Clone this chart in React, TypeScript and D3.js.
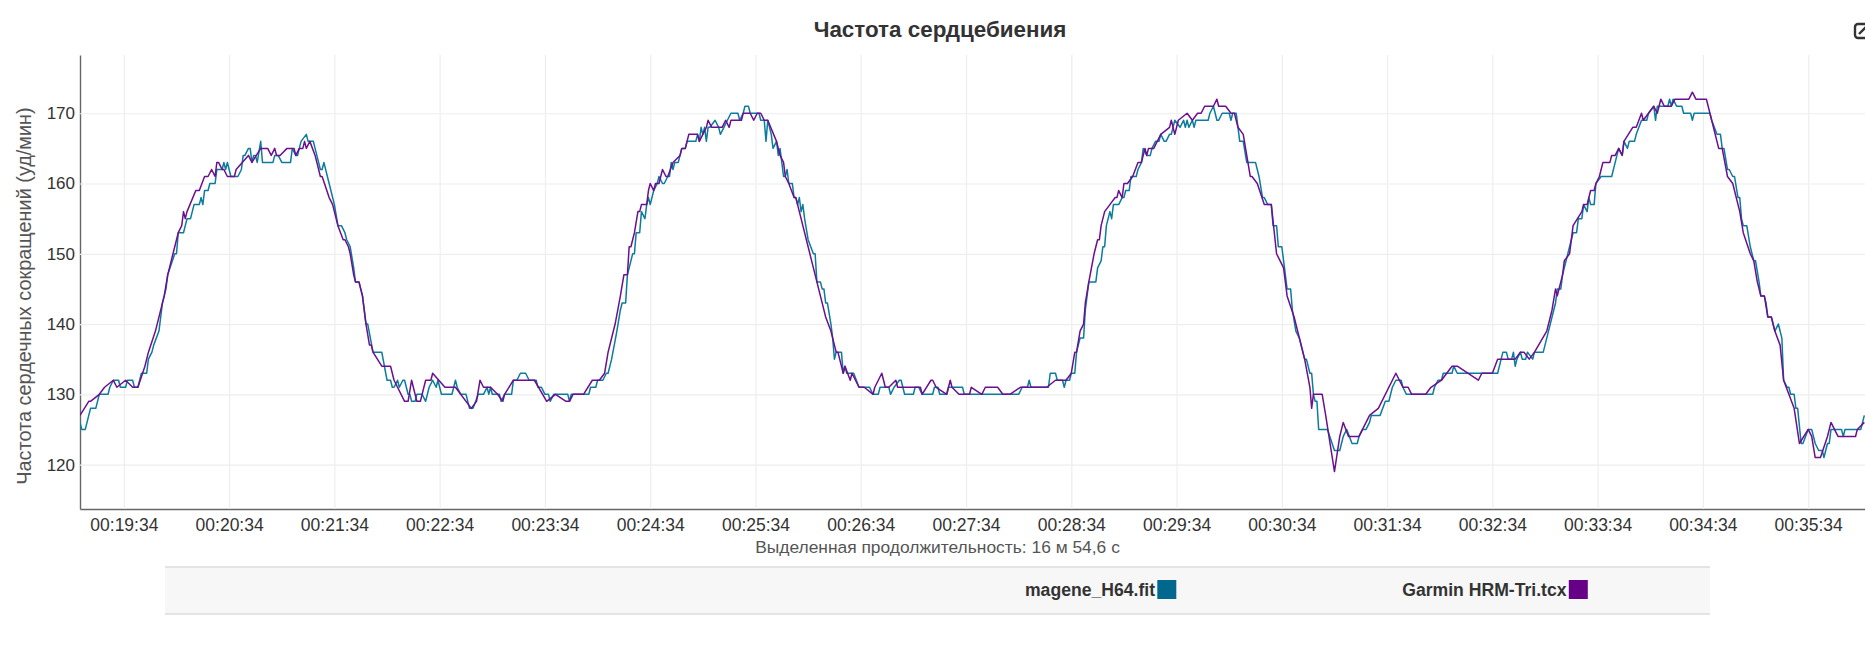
import { useRef, useEffect } from 'react';
import * as d3 from 'd3';

// seconds since the start of the selection (00:19:09) and heart rate
const mageneTimes = [
  0, 1, 3, 5, 6, 9, 10, 11, 16, 17, 19, 22, 23, 26, 27, 30, 31, 33, 35, 38, 39, 41, 42, 45, 46, 47, 49, 50, 54, 55, 56, 59, 61, 63, 65, 68, 69, 70, 71, 73, 74, 77, 78, 81, 82, 83, 84, 85, 86, 90, 92, 93, 94, 96, 97, 98, 99, 100, 101, 103, 104, 110, 111, 113, 115, 118,
  120, 121, 123, 124, 126, 129, 130, 133, 135, 137, 138, 139, 142, 143, 145, 147, 149, 151, 152, 154, 156, 157, 159, 161, 163, 164, 167, 172, 175, 177, 178, 179, 181, 182, 184, 185, 187, 188, 189, 191, 192, 195, 197, 199, 201, 203, 204, 206, 212, 213, 214, 215, 217, 220, 222, 224, 227, 230, 232, 233, 234, 235,
  239, 240, 242, 246, 247, 249, 251, 254, 256, 260, 261, 263, 265, 267, 268, 270, 278, 279, 280, 290, 291, 294, 295, 298, 300, 301, 303, 306, 308, 309, 311, 312, 313, 315, 316, 317, 319, 320, 322, 323, 324, 325, 327, 329, 330, 332, 333, 335, 336, 337, 338, 339, 341, 343, 345, 346, 351, 352, 353, 354, 355, 356, 357,
  358, 359, 362, 364, 365, 367, 369, 371, 375, 376, 378, 379, 381, 382, 387, 388, 390, 391, 392, 394, 395, 397, 398, 399, 401, 402, 403, 404, 406, 407, 408, 409, 410, 411, 412, 413, 415, 418, 419, 420, 422, 423, 424, 425, 426, 428, 429, 430, 431, 434, 435, 436, 437, 441, 444, 450, 452, 455, 456, 461, 462, 464, 467, 468, 470, 475, 476,
  478, 480, 486, 487, 489, 490, 494, 495, 503, 504, 535, 537, 540, 541, 542, 552, 553, 556, 557, 560, 561, 562, 564, 565, 567, 568, 570, 572, 573, 575, 579, 580, 582, 583, 584, 585, 587, 588, 589, 592, 594, 595, 596, 598,
  599, 602, 603, 605, 606, 608, 610, 611, 613, 615, 616, 618, 619, 621, 622, 623, 624, 627, 629, 630, 631, 632, 634, 635, 636, 643, 644, 646, 648, 649, 651, 655, 656, 657, 659, 661, 663, 665, 670, 671, 672, 674, 675, 677, 679, 680, 682, 683, 685, 687, 688, 690, 691, 693, 695, 698, 699, 701, 702, 703, 704, 705,
  706, 711, 715, 718, 720, 722, 725, 728, 729, 731, 733, 735, 736, 740, 741, 744, 746, 748, 750, 753, 754, 756, 771, 772, 774, 776, 777, 782, 783, 785, 803,
  808, 810, 811, 813, 814, 816, 817, 818, 819, 821, 822, 824, 825, 828, 829, 834, 835, 837, 839, 841, 842, 844, 845, 847, 849, 851, 853, 854, 856, 857, 859, 860, 861, 863, 864, 867, 873, 875, 877, 879, 880, 882, 883, 886, 887, 890, 893, 894, 897, 898, 899, 905, 906, 907, 908, 910, 913, 914, 916,
  918, 919, 920, 929, 930, 933, 935, 936, 937, 939, 940, 942, 943, 945, 946, 947, 948, 950, 952, 954, 955, 957, 958, 960, 961, 962, 964, 966, 968, 970, 971, 973, 974, 975, 977, 978, 979, 981, 982, 985, 987, 989, 991, 993, 994, 995, 996, 997, 998, 1004, 1005, 1006, 1015, 1017,
];
const mageneHr = [
  126, 125, 125, 127, 128, 128, 129, 130, 130, 131, 132, 132, 131, 131, 132, 132, 131, 131, 133, 133, 135, 136, 137, 139, 141, 143, 145, 147, 150, 150, 153, 153, 155, 155, 157, 157, 158, 157, 159, 159, 160, 160, 162, 162, 163, 162, 163, 162, 161, 161, 162, 164, 164, 165, 165, 163, 164, 164, 163, 166, 163, 163, 164, 164, 163, 163,
  163, 165, 164, 164, 166, 167, 166, 166, 164, 162, 162, 163, 160, 159, 157, 154, 154, 153, 152, 151, 148, 146, 146, 144, 140, 140, 136, 136, 132, 132, 131, 131, 132, 131, 132, 132, 130, 130, 129, 129, 130, 130, 129, 131, 132, 131, 132, 130, 130, 131, 132, 131, 130, 130, 128, 128, 130, 130, 131, 130, 131, 130,
  130, 129, 130, 130, 132, 132, 133, 133, 132, 132, 131, 131, 130, 130, 129, 130, 130, 129, 130, 130, 131, 131, 132, 132, 133, 133, 135, 139, 142, 143, 143, 147, 148, 150, 150, 153, 153, 156, 155, 157, 158, 157, 159, 160, 161, 160, 160, 161, 161, 163, 162, 163, 163, 165, 165, 166, 166, 167, 166, 168, 167, 168, 166,
  168, 168, 169, 168, 167, 168, 169, 170, 170, 169, 170, 171, 171, 170, 170, 169, 169, 166, 169, 167, 165, 166, 164, 165, 161, 161, 162, 160, 160, 158, 158, 157, 158, 156, 157, 155, 152, 150, 150, 146, 146, 145, 145, 143, 143, 140, 138, 135, 136, 136, 133, 134, 133, 133, 131, 131, 130, 130, 131, 131, 130, 131, 132, 132, 130, 130, 131,
  131, 130, 130, 131, 131, 130, 130, 131, 131, 130, 130, 131, 131, 132, 131, 131, 133, 133, 132, 132, 131, 132, 132, 133, 133, 136, 138, 138, 142, 146, 146, 148, 149, 151, 151, 154, 156, 155, 157, 157, 158, 158, 159, 159,
  161, 161, 162, 163, 165, 164, 164, 165, 166, 166, 167, 166, 166, 167, 167, 168, 169, 168, 169, 168, 169, 168, 169, 168, 169, 169, 170, 171, 169, 169, 170, 170, 169, 170, 170, 166, 166, 163, 163, 162, 161, 158, 158, 157, 157, 154, 154, 151, 151, 147, 145, 145, 142, 139, 138, 135, 135, 133, 133, 130, 129, 129,
  125, 125, 122, 122, 124, 125, 123, 123, 124, 125, 125, 126, 127, 127, 127, 129, 129, 131, 132, 132, 131, 130, 130, 131, 132, 132, 133, 133, 134, 133, 133,
  133, 135, 136, 136, 135, 135, 136, 134, 135, 136, 135, 135, 136, 135, 136, 136, 137, 139, 141, 143, 145, 145, 147, 149, 151, 153, 153, 155, 155, 157, 156, 158, 157, 157, 160, 161, 161, 163, 165, 164, 166, 165, 166, 166, 167, 169, 169, 170, 171, 169, 171, 171, 172, 171, 172, 171, 171, 170, 170,
  170, 169, 170, 170, 169, 167, 167, 165, 165, 162, 162, 161, 161, 158, 158, 155, 154, 154, 151, 149, 149, 146, 144, 144, 143, 141, 141, 139, 140, 138, 132, 131, 131, 130, 130, 128, 128, 123, 123, 125, 125, 123, 122, 122, 121, 122, 123, 123, 125, 125, 124, 125, 125, 127,
];

const garminTimes = [
  0, 5, 6, 11, 14, 19, 21, 26, 30, 33, 37, 39, 43, 48, 50, 53, 56, 58, 59, 60, 61, 66, 68, 71, 73, 75, 77, 78, 79, 81, 82, 84, 88, 89, 96, 98, 103, 107, 109, 111, 112, 114, 118,
  122, 123, 125, 127, 128, 129, 131, 134, 135, 137, 138, 142, 144, 147, 150, 151, 153, 154, 156, 157, 159, 161, 163, 165, 166, 167, 172, 177, 179, 185, 187, 189, 192, 194, 197, 200, 201, 208, 214, 223, 226, 228, 230, 234,
  238, 241, 242, 247, 259, 266, 271, 277, 279, 281, 287, 292, 296, 299, 301, 305, 308, 310, 312, 313, 314, 316, 318, 319, 320, 323, 324, 325, 327, 328, 330, 332, 334, 335, 338, 342, 343, 345, 347, 352, 353, 357,
  358, 360, 366, 368, 370, 371, 377, 378, 382, 384, 386, 388, 390, 392, 397, 399, 401, 402, 404, 407, 408, 410, 415, 419, 422, 425, 428, 431, 432, 435, 436, 439, 440, 444, 447, 452, 453, 457, 459, 461, 465, 466, 477,
  479, 480, 485, 486, 488, 494, 496, 497, 501, 507, 508, 514, 516, 523, 526, 530, 536, 551, 556, 562, 565, 567, 568, 570, 572, 573, 575, 578, 580, 581, 582, 584, 587, 590, 591, 592, 594, 595, 597,
  600, 603, 605, 607, 608, 609, 612, 616, 621, 622, 624, 626, 631, 634, 637, 639, 641, 646, 648, 649, 653, 656, 658, 660, 663, 667, 668, 671, 675, 679, 682, 686, 688, 692, 698, 701, 702, 703,
  704, 708, 710, 715, 718, 720, 723, 729, 735, 740, 750, 754, 757, 759, 767, 770, 776, 782, 785, 797, 799,
  805, 808, 818, 821, 823, 826, 829, 836, 839, 841, 842, 845, 846, 849, 851, 856, 857, 859, 861, 863, 864, 866, 868, 872, 873, 875, 877, 879, 880, 885, 887, 890, 891, 897, 899, 901, 903, 907, 909, 917, 919, 921,
  926, 927, 930, 934, 936, 939, 942, 946, 948, 952, 954, 956, 958, 960, 962, 964, 966, 969, 971, 977, 980, 985, 987, 989, 992, 996, 998, 1002, 1012, 1013, 1017,
];
const garminHr = [
  127, 129, 129, 130, 131, 132, 131, 132, 131, 131, 134, 136, 139, 144, 147, 150, 153, 154, 156, 155, 156, 159, 159, 161, 161, 162, 161, 163, 163, 162, 162, 161, 161, 162, 164, 163, 165, 165, 164, 165, 164, 164, 165,
  165, 164, 165, 165, 166, 165, 166, 164, 163, 161, 161, 158, 157, 154, 152, 152, 151, 150, 147, 146, 146, 144, 140, 137, 137, 136, 134, 134, 132, 129, 129, 132, 129, 129, 132, 132, 133, 131, 131, 128, 129, 132, 131, 131,
  130, 129, 130, 132, 132, 129, 130, 129, 129, 130, 130, 132, 132, 133, 136, 140, 144, 147, 147, 151, 151, 153, 156, 156, 157, 157, 159, 160, 159, 160, 160, 162, 161, 161, 163, 164, 165, 165, 167, 167, 166, 168,
  169, 168, 168, 169, 168, 169, 169, 170, 170, 169, 170, 170, 169, 169, 166, 164, 163, 161, 160, 158, 158, 156, 151, 147, 144, 141, 139, 136, 136, 133, 134, 132, 133, 131, 131, 130, 131, 133, 131, 131, 132, 131, 131,
  131, 130, 132, 132, 131, 130, 132, 131, 130, 130, 131, 130, 131, 131, 130, 130, 131, 131, 132, 132, 133, 136, 136, 139, 140, 143, 146, 150, 152, 152, 154, 156, 157, 158, 158, 159, 158, 160, 160,
  161, 163, 163, 165, 164, 165, 165, 167, 168, 169, 167, 169, 170, 169, 170, 170, 171, 171, 172, 171, 171, 170, 170, 168, 167, 161, 161, 160, 157, 157, 150, 148, 144, 141, 135, 131, 128, 130,
  130, 130, 127, 119, 124, 126, 124, 124, 127, 128, 133, 131, 131, 130, 130, 131, 132, 134, 134, 132, 133,
  133, 135, 135, 136, 136, 135, 136, 139, 142, 145, 144, 147, 149, 150, 154, 156, 157, 157, 159, 159, 160, 161, 163, 163, 164, 164, 165, 164, 166, 168, 168, 170, 169, 171, 170, 172, 171, 171, 172, 172, 173, 172,
  172, 172, 169, 165, 165, 161, 160, 156, 153, 150, 149, 146, 144, 144, 141, 141, 139, 137, 132, 128, 123, 125, 124, 121, 121, 124, 126, 124, 124, 125, 126,
];

const yTicks = [120, 130, 140, 150, 160, 170];
const xTickMinutes = [19, 20, 21, 22, 23, 24, 25, 26, 27, 28, 29, 30, 31, 32, 33, 34, 35];
const startSeconds = 19 * 60 + 9;
const seriesNames = ['magene_H64.fit', 'Garmin HRM-Tri.tcx'];

const fontFamily = '"Liberation Sans", Arial, sans-serif';
const width = 1865;
const height = 645;
const plot = { left: 80, right: 1865, top: 55, bottom: 509 };
const lineColors = ['#0b7c9d', '#6c0f90'];
const swatchColors = ['#00688f', '#650087'];

const fmt = (m: number) => `00:${m}:34`;

export default function App() {
  const ref = useRef<SVGSVGElement>(null);

  useEffect(() => {
    if (!ref.current) return;

    const svg = d3.select(ref.current);
    svg.selectAll('*').remove(); // Clear previous renders

    const xScale = d3
      .scaleLinear()
      .domain([startSeconds, startSeconds + (plot.right - plot.left) / 1.7545])
      .range([plot.left, plot.right]);

    const yScale = d3
      .scaleLinear()
      .domain([130 - (509 - 394.3) / 7.026, 130 + (394.3 - 55) / 7.026])
      .range([plot.bottom, plot.top]);

    svg
      .append('defs')
      .append('clipPath')
      .attr('id', 'plot-clip')
      .append('rect')
      .attr('x', plot.left)
      .attr('y', plot.top)
      .attr('width', plot.right - plot.left)
      .attr('height', plot.bottom - plot.top);

    const xTicks = xTickMinutes.map((m) => m * 60 + 34);

    // Grid
    const xAxis = svg
      .append('g')
      .attr('transform', `translate(0,${plot.bottom})`)
      .call(
        d3
          .axisBottom(xScale)
          .tickValues(xTicks)
          .tickSizeInner(-(plot.bottom - plot.top))
          .tickSizeOuter(0)
          .tickPadding(10)
          .tickFormat((d) => fmt(Math.floor(+d / 60)))
      );
    xAxis.select('.domain').attr('stroke', '#666').attr('stroke-width', 1.4);
    xAxis.selectAll('.tick line').attr('stroke', '#eeeeee').attr('stroke-width', 1.2);
    xAxis
      .selectAll('text')
      .attr('fill', '#333')
      .style('font-family', fontFamily)
      .style('font-size', '17.5px');

    const yAxis = svg
      .append('g')
      .attr('transform', `translate(${plot.left},0)`)
      .call(
        d3
          .axisLeft(yScale)
          .tickValues(yTicks)
          .tickSizeInner(-(plot.right - plot.left))
          .tickSizeOuter(0)
          .tickPadding(5)
      );
    yAxis.select('.domain').attr('stroke', '#666').attr('stroke-width', 1.4);
    yAxis.selectAll('.tick line').attr('stroke', '#eeeeee').attr('stroke-width', 1.2);
    yAxis
      .selectAll('text')
      .attr('fill', '#333')
      .style('font-family', fontFamily)
      .style('font-size', '17px');

    // Lines
    const series = [
      { times: mageneTimes, values: mageneHr, color: lineColors[0] },
      { times: garminTimes, values: garminHr, color: lineColors[1] },
    ];
    series.forEach((s) => {
      const line = d3
        .line<number>()
        .x((_, i) => xScale(startSeconds + s.times[i]))
        .y((d) => yScale(d));
      svg
        .append('path')
        .attr('clip-path', 'url(#plot-clip)')
        .attr('fill', 'none')
        .attr('stroke', s.color)
        .attr('stroke-width', 1.5)
        .attr('stroke-linejoin', 'round')
        .attr('d', line(s.values));
    });

    // Title and labels
    svg
      .append('text')
      .attr('x', 940)
      .attr('y', 37)
      .attr('text-anchor', 'middle')
      .attr('fill', '#333')
      .style('font-family', fontFamily)
      .style('font-size', '22.4px')
      .style('font-weight', 'bold')
      .text('Частота сердцебиения');

    svg
      .append('text')
      .attr('transform', 'rotate(-90)')
      .attr('x', -296)
      .attr('y', 30.5)
      .attr('text-anchor', 'middle')
      .attr('fill', '#555')
      .style('font-family', fontFamily)
      .style('font-size', '19.9px')
      .text('Частота сердечных сокращений (уд/мин)');

    svg
      .append('text')
      .attr('x', 937.5)
      .attr('y', 553)
      .attr('text-anchor', 'middle')
      .attr('fill', '#555')
      .style('font-family', fontFamily)
      .style('font-size', '17.4px')
      .text('Выделенная продолжительность: 16 м 54,6 с');

    // Legend
    svg
      .append('rect')
      .attr('x', 165)
      .attr('y', 567)
      .attr('width', 1545)
      .attr('height', 47)
      .attr('fill', '#f7f7f7');
    [567, 614].forEach((y) => {
      svg
        .append('line')
        .attr('x1', 165)
        .attr('x2', 1710)
        .attr('y1', y)
        .attr('y2', y)
        .attr('stroke', '#dcdcdc')
        .attr('stroke-width', 1.6);
    });
    [1155, 1566.5].forEach((right, i) => {
      svg
        .append('text')
        .attr('x', right)
        .attr('y', 596)
        .attr('text-anchor', 'end')
        .attr('fill', '#333')
        .style('font-family', fontFamily)
        .style('font-size', '17.6px')
        .style('font-weight', 'bold')
        .text(seriesNames[i]);
      svg
        .append('rect')
        .attr('x', right + 2.3)
        .attr('y', 580)
        .attr('width', 19)
        .attr('height', 19)
        .attr('fill', swatchColors[i]);
    });

    // Export icon, cut off by the window edge
    svg
      .append('path')
      .attr('d', 'M1866 24H1858a3 3 0 0 0-3 3V35a3 3 0 0 0 3 3H1866M1859 34L1866 27')
      .attr('fill', 'none')
      .attr('stroke', '#333')
      .attr('stroke-width', 2.4);
  }, []);

  return (
    <svg
      ref={ref}
      width={width}
      height={height}
      style={{ position: 'absolute', left: 0, top: 0, background: '#fff' }}
    />
  );
}
